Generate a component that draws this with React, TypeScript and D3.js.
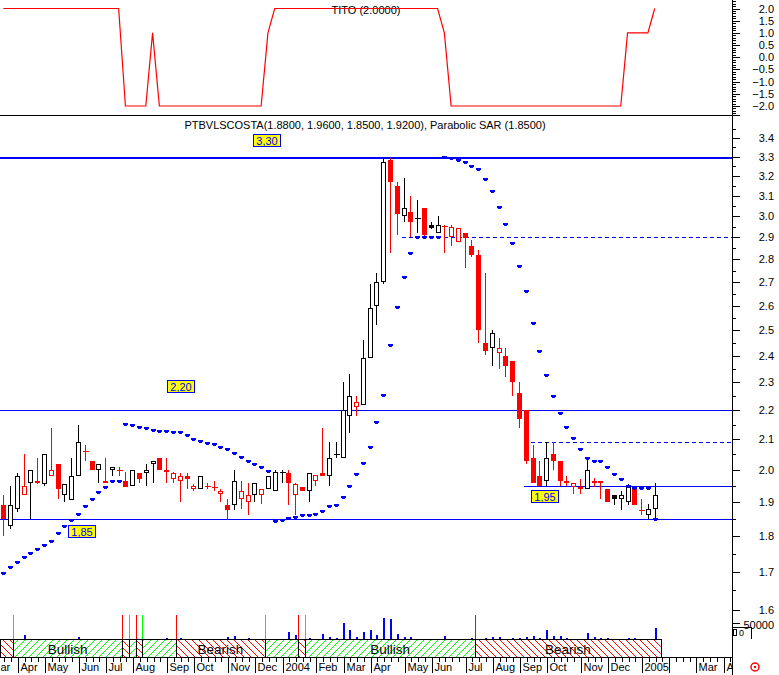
import React from 'react';
import * as d3 from 'd3';

// ---------- DATA ----------
// Weekly candles (Fridays) from 2003-03-21 to 2005-01-21
const FIRST_WEEK = '2003-03-21';
const LAST_WEEK = '2005-01-21';
const PRIOR_CLOSE = 1.9;

const OPEN = [
  1.89, 1.83, 1.88, 1.92, 1.96, 1.96, 1.955, 1.98, 2.02, 1.92,
  1.905, 1.98, 2.06, 2.03, 2.0, 1.965, 2.0, 2.0, 1.965, 1.95,
  1.99, 1.99, 2.02, 2.04, 2.0, 1.97, 1.965, 1.98, 1.94, 1.94,
  1.95, 1.945, 1.925, 1.89, 1.89, 1.91, 1.9, 1.92, 1.92, 1.94,
  1.935, 1.995, 1.99, 1.92, 1.945, 1.935, 1.965, 1.99, 1.98, 2.05,
  2.04, 2.18, 2.21, 2.22, 2.39, 2.6, 2.7, 3.28, 3.15, 3.0,
  3.02, 2.99, 3.04, 2.96, 2.92, 2.955, 2.9, 2.88, 2.92, 2.86,
  2.82, 2.45, 2.43, 2.41, 2.4, 2.38, 2.26, 2.2, 2.04, 1.98,
  1.965, 2.05, 2.03, 1.965, 1.945, 1.94, 1.94, 1.96, 1.965, 1.94,
  1.92, 1.91, 1.9, 1.945, 1.875, 1.86, 1.88,
];
const HIGH = [
  1.92, 1.95, 1.99, 2.05, 2.0, 2.04, 2.05, 2.14, 2.02, 1.955,
  2.04, 2.15, 2.08, 2.03, 2.02, 2.04, 2.01, 2.01, 1.995, 2.0,
  1.99, 2.02, 2.03, 2.04, 2.04, 1.995, 1.99, 1.99, 1.955, 1.98,
  1.96, 1.965, 1.94, 1.91, 2.0, 1.965, 1.96, 1.96, 1.94, 1.98,
  2.0, 2.0, 2.0, 1.96, 1.945, 1.99, 1.985, 2.14, 2.09, 2.09,
  2.3, 2.33, 2.25, 2.46, 2.69, 2.74, 3.3, 3.29, 3.17, 3.19,
  3.1, 3.08, 3.04, 2.97, 3.0, 2.96, 2.96, 2.945, 2.92, 2.89,
  2.84, 2.74, 2.5, 2.47, 2.43, 2.38, 2.3, 2.2, 2.08, 2.03,
  2.09, 2.09, 2.03, 1.98, 1.96, 1.97, 2.04, 1.975, 1.965, 1.94,
  1.92, 1.935, 1.955, 1.945, 1.91, 1.895, 1.96,
];
const LOW = [
  1.8, 1.82, 1.87, 1.92, 1.85, 1.955, 1.95, 1.98, 1.91, 1.9,
  1.905, 1.98, 2.03, 2.0, 1.96, 1.96, 1.98, 1.98, 1.945, 1.95,
  1.96, 1.95, 1.96, 2.0, 1.96, 1.96, 1.9, 1.94, 1.935, 1.94,
  1.94, 1.935, 1.9, 1.845, 1.875, 1.88, 1.86, 1.9, 1.895, 1.94,
  1.935, 1.96, 1.89, 1.86, 1.935, 1.9, 1.95, 1.98, 1.95, 2.04,
  2.04, 2.12, 2.18, 2.22, 2.39, 2.52, 2.69, 2.83, 2.91, 2.97,
  2.9, 2.92, 2.9, 2.94, 2.92, 2.83, 2.86, 2.88, 2.76, 2.81,
  2.45, 2.405, 2.36, 2.35, 2.32, 2.25, 2.14, 2.02, 1.96, 1.95,
  1.95, 2.0, 1.95, 1.95, 1.925, 1.925, 1.94, 1.945, 1.91, 1.9,
  1.89, 1.875, 1.89, 1.89, 1.86, 1.85, 1.85,
];
const CLOSE = [
  1.85, 1.89, 1.98, 1.95, 2.0, 1.965, 2.05, 2.0, 1.94, 1.955,
  1.98, 2.09, 2.06, 2.0, 2.02, 1.96, 2.01, 2.0, 1.945, 2.0,
  1.97, 2.0, 2.03, 2.0, 1.995, 1.99, 1.98, 1.97, 1.95, 1.98,
  1.95, 1.945, 1.935, 1.875, 1.965, 1.935, 1.92, 1.96, 1.94, 1.98,
  1.995, 1.995, 1.96, 1.955, 1.935, 1.99, 1.985, 1.98, 2.04, 2.05,
  2.2, 2.25, 2.23, 2.39, 2.59, 2.7, 3.27, 3.17, 3.01, 3.04,
  2.97, 2.99, 2.91, 2.945, 2.96, 2.955, 2.95, 2.945, 2.895, 2.82,
  2.5, 2.42, 2.49, 2.43, 2.36, 2.3, 2.17, 2.03, 1.96, 1.95,
  2.04, 2.03, 1.965, 1.96, 1.958, 1.945, 2.0, 1.965, 1.96, 1.9,
  1.91, 1.92, 1.945, 1.89, 1.875, 1.88, 1.92,
];
const VOLUME = [
  0, 0, 0, 12500, 0, 0, 0, 0, 0, 0,
  0, 6250, 0, 0, 0, 0, 0, 0, 0, 0,
  0, 0, 0, 0, 3000, 0, 3000, 0, 0, 0,
  0, 0, 0, 6250, 9400, 0, 3000, 0, 0, 0,
  0, 0, 21900, 12500, 0, 3000, 0, 15600, 6250, 3000,
  50000, 28000, 6250, 21900, 28000, 12500, 65600, 62500, 15600, 6250,
  6250, 0, 0, 0, 0, 9400, 0, 0, 0, 3000,
  0, 3000, 6250, 6250, 0, 3000, 3000, 6250, 9400, 3000,
  28000, 9400, 9400, 3000, 0, 0, 18750, 6250, 3000, 3000,
  0, 0, 3000, 3000, 0, 0, 34400,
];
const SAR = [
  1.697, 1.713, 1.726, 1.74, 1.752, 1.763, 1.774, 1.786, 1.807, 1.829,
  1.846, 1.864, 1.887, 1.91, 1.931, 1.945, 1.964, 1.965, 2.152, 2.148,
  2.143, 2.14, 2.133, 2.13, 2.127, 2.125, 2.124, 2.114, 2.102, 2.096,
  2.087, 2.084, 2.074, 2.067, 2.055, 2.041, 2.029, 2.019, 2.01, 1.998,
  1.842, 1.846, 1.852, 1.856, 1.862, 1.862, 1.864, 1.872, 1.889, 1.892,
  1.916, 1.949, 1.986, 2.022, 2.074, 2.158, 2.254, 2.441, 2.596, 2.722,
  2.827, 2.9, 2.9, 2.9, 2.9, 3.3, 3.29, 3.282, 3.273, 3.252,
  3.233, 3.182, 3.121, 3.046, 2.961, 2.873, 2.77, 2.66, 2.529, 2.418,
  2.327, 2.25, 2.19, 2.141, 2.104, 2.067, 2.038, 2.03, 2.03, 2.009,
  1.986, 1.97, 1.95, 1.942, 1.942, 1.942, 1.85,
];
const TITO = [
  2, 2, 2, 2, 2, 2, 2, 2, 2, 2,
  2, 2, 2, 2, 2, 2, 2, 2, -2, -2,
  -2, -2, 1, -2, -2, -2, -2, -2, -2, -2,
  -2, -2, -2, -2, -2, -2, -2, -2, -2, 1,
  2, 2, 2, 2, 2, 2, 2, 2, 2, 2,
  2, 2, 2, 2, 2, 2, 2, 2, 2, 2,
  2, 2, 2, 2, 2, 1, -2, -2, -2, -2,
  -2, -2, -2, -2, -2, -2, -2, -2, -2, -2,
  -2, -2, -2, -2, -2, -2, -2, -2, -2, -2,
  -2, -2, 1, 1, 1, 1, 2,
];
// Trend signals: candle index where the state changes
const SIGNAL_IDX = [2, 18, 19, 20, 21, 26, 39, 44, 45, 70];
const SIGNAL_TYPE = ['buy', 'sell', 'buy', 'sell', 'buy', 'sell', 'buy', 'sell', 'buy', 'sell'];
const INITIAL_STATE = 'sell';

// Support / resistance levels
const LEVEL_VALUES = [3.3, 2.2, 1.85, 2.9, 2.09, 1.95];
const LEVEL_START = [0, 0, 0, 59, 78, 77];
const LEVEL_DASHED = [false, false, false, true, true, false];
const LEVEL_LABELS = ['3,30', '2,20', '1,85', '', '', '1,95'];

// Month ticks (first weekly bar of each month)
const TICK_DATES = [
  '2003-03-07', '2003-04-04', '2003-05-02', '2003-06-06', '2003-07-04', '2003-08-01',
  '2003-09-05', '2003-10-03', '2003-11-07', '2003-12-05', '2004-01-02', '2004-02-06',
  '2004-03-05', '2004-04-02', '2004-05-07', '2004-06-04', '2004-07-09', '2004-08-06',
  '2004-09-03', '2004-10-01', '2004-11-05', '2004-12-03', '2005-01-07', '2005-02-04',
  '2005-03-04', '2005-04-01',
];
// the first month label is only partly visible at the left edge
const TICK_LABELS = [
  'ar', 'Apr', 'May', 'Jun', 'Jul', 'Aug', 'Sep', 'Oct', 'Nov', 'Dec', '2004', 'Feb',
  'Mar', 'Apr', 'May', 'Jun', 'Jul', 'Aug', 'Sep', 'Oct', 'Nov', 'Dec', '2005', '',
  'Mar', 'Apr',
];
const PRICE_TICKS = [1.6, 1.7, 1.8, 1.9, 2.0, 2.1, 2.2, 2.3, 2.4, 2.5, 2.6, 2.7, 2.8, 2.9, 3.0, 3.1, 3.2, 3.3, 3.4];
const TITO_TICKS = [2, 1.5, 1, 0.5, 0, -0.5, -1, -1.5, -2];
const VOLUME_TICKS = [50000];

// ---------- STYLE ----------
const RED = '#ff0000';
const BLUE = '#0000ff';
const GREEN = '#00ff00';
const BLACK = '#000000';
const FONT = '"Liberation Sans", Arial, Helvetica, sans-serif';

const parse = (s: string) => {
  const [a, b, c] = s.split('-').map(Number);
  return new Date(Date.UTC(a, b - 1, c));
};

export default function App() {
  const W = 779;
  const H = 675;
  const RIGHT = 732;
  const TOP_SEP = 115;
  const BAND_TOP = 639;
  const BAND_BOT = 657;

  const dates = d3.utcFriday.range(parse(FIRST_WEEK), d3.utcDay.offset(parse(LAST_WEEK), 1));
  const x = d3.scaleUtc().domain([dates[0], dates[dates.length - 1]]).range([3.3, 654.7]);
  const step = x(dates[1]) - x(dates[0]);
  const y = d3.scaleLog().domain([1.6, 3.3]).range([609.6, 156.5]);
  const yT = d3.scaleLinear().domain([-2, 2]).range([106, 8.5]);
  const yV = d3.scaleLinear().domain([0, 50000]).range([BAND_TOP, 623]);

  const cx = (i: number) => Math.round(x(dates[i])) + 0.5;

  // band segments
  const segs: { x0: number; x1: number; state: string }[] = [];
  let st = INITIAL_STATE;
  let sx = 0;
  SIGNAL_IDX.forEach((idx, k) => {
    const bx = x(dates[idx]) - step / 2;
    segs.push({ x0: sx, x1: bx, state: st });
    st = SIGNAL_TYPE[k];
    sx = bx;
  });
  const bandEnd = x(dates[dates.length - 1]) + step * 0.9;
  segs.push({ x0: sx, x1: bandEnd, state: st });

  const titoLine = d3
    .line<number>()
    .x((_, i) => x(dates[i]))
    .y((d) => yT(d));

  const weekTicks = d3
    .utcFriday.range(parse('2003-02-28'), parse('2005-04-16'))
    .map((d) => x(d))
    .filter((v) => v >= 0 && v <= RIGHT);

  const minorPrice = d3.range(31, 70).map((k) => k * 0.05).filter((v) => y(v) > TOP_SEP + 2 && y(v) < BAND_TOP - 8);
  const minorTito = d3.range(-23, 24).map((k) => k / 10).filter((v) => yT(v) > 1 && yT(v) < TOP_SEP - 1);

  const labelPos: Record<string, { x: number; dy: number }> = {
    '3,30': { x: 253, dy: -23 },
    '2,20': { x: 167, dy: -30 },
    '1,85': { x: 68, dy: 6.5 },
    '1,95': { x: 531, dy: 4.5 },
  };

  return (
    <svg
      width={W}
      height={H}
      style={{ position: 'absolute', left: 0, top: 0, background: '#fff', fontFamily: FONT }}
    >
      <defs>
        <clipPath id="topClip">
          <rect x={0} y={0} width={RIGHT} height={TOP_SEP} />
        </clipPath>
        <clipPath id="mainClip">
          <rect x={0} y={TOP_SEP + 1} width={RIGHT} height={BAND_TOP - TOP_SEP - 1} />
        </clipPath>
        <clipPath id="axisClip">
          <rect x={0} y={BAND_BOT} width={RIGHT} height={H - BAND_BOT} />
        </clipPath>
        <pattern id="bull" width={7} height={7} patternUnits="userSpaceOnUse">
          <path d="M0,7 L7,0 M-1,1 L1,-1 M6,8 L8,6" stroke={GREEN} strokeWidth={1} />
        </pattern>
        <pattern id="bear" width={7} height={7} patternUnits="userSpaceOnUse">
          <path d="M0,0 L7,7 M-1,6 L1,8 M6,-1 L8,1" stroke={RED} strokeWidth={1} />
        </pattern>
      </defs>

      {/* ---------- TOP PANEL (TITO) ---------- */}
      <text x={366} y={14} fontSize={11} textAnchor="middle" fill={BLACK}>
        TITO (2.0000)
      </text>
      <g clipPath="url(#topClip)">
        <path d={titoLine(TITO) || ''} fill="none" stroke={RED} strokeWidth={1.2} />
      </g>
      <line x1={0} x2={RIGHT} y1={TOP_SEP + 0.5} y2={TOP_SEP + 0.5} stroke={BLACK} />

      {/* ---------- MAIN PANEL ---------- */}
      <text x={365} y={129} fontSize={11} textAnchor="middle" fill={BLACK}>
        PTBVLSCOSTA(1.8800, 1.9600, 1.8500, 1.9200), Parabolic SAR (1.8500)
      </text>

      <g clipPath="url(#mainClip)">
        {/* levels */}
        {LEVEL_VALUES.map((v, k) => {
          const x0 = LEVEL_START[k] === 0 ? 0 : x(dates[LEVEL_START[k]]) - 2;
          const yy = Math.round(y(v)) + 0.5;
          return (
            <line
              key={'lv' + k}
              x1={x0}
              x2={RIGHT}
              y1={yy}
              y2={yy}
              stroke={BLUE}
              strokeWidth={k === 0 ? 2 : 1}
              strokeDasharray={LEVEL_DASHED[k] ? '4,3' : undefined}
              shapeRendering="crispEdges"
            />
          );
        })}

        {/* candles */}
        {OPEN.map((o, i) => {
          const c = CLOSE[i];
          const prev = i === 0 ? PRIOR_CLOSE : CLOSE[i - 1];
          const col = c < prev ? RED : BLACK;
          const xc = cx(i);
          const yH = y(HIGH[i]);
          const yL = y(LOW[i]);
          const yTop = Math.round(y(Math.max(o, c)));
          const yBot = Math.round(y(Math.min(o, c)));
          const filled = c < o;
          const bh = yBot - yTop;
          let body;
          if (bh < 1.5) {
            body = <line x1={xc - 3} x2={xc + 3} y1={yTop + 0.5} y2={yTop + 0.5} stroke={col} strokeWidth={1.5} />;
          } else if (filled) {
            body = <rect x={xc - 2.5} y={yTop} width={5} height={bh} fill={col} />;
          } else {
            body = (
              <rect x={xc - 2} y={yTop + 0.5} width={4} height={bh - 1} fill="#fff" stroke={col} strokeWidth={1} />
            );
          }
          return (
            <g key={'c' + i} shapeRendering="crispEdges">
              <line x1={xc} x2={xc} y1={yH} y2={yL} stroke={col} strokeWidth={1} />
              {body}
            </g>
          );
        })}

        {/* parabolic SAR */}
        {SAR.map((v, i) => {
          const xc = cx(i) - 0.5;
          const yy = Math.round(y(v));
          return (
            <g key={'s' + i} fill={BLUE} shapeRendering="crispEdges">
              <rect x={xc - 2} y={yy - 1} width={5} height={2} />
              <rect x={xc - 1} y={yy + 1} width={3} height={1} />
            </g>
          );
        })}

        {/* level labels */}
        {LEVEL_VALUES.map((v, k) => {
          const lab = LEVEL_LABELS[k];
          if (!lab) return null;
          const p = labelPos[lab];
          const top = Math.round(y(v) + p.dy);
          return (
            <g key={'ll' + k}>
              <rect x={p.x + 0.5} y={top + 0.5} width={27} height={12} fill="#ffff00" stroke={BLUE} strokeWidth={1} />
              <text x={p.x + 14} y={top + 10.5} fontSize={11} textAnchor="middle" fill={BLUE}>
                {lab}
              </text>
            </g>
          );
        })}
      </g>

      {/* ---------- VOLUME ---------- */}
      <g shapeRendering="crispEdges">
        {VOLUME.map((v, i) =>
          v > 0 ? (
            <rect key={'v' + i} x={cx(i) - 0.5} y={yV(v)} width={1.5} height={BAND_TOP - yV(v)} fill={BLUE} />
          ) : null
        )}
        {SIGNAL_IDX.map((idx, k) => {
          const bx = Math.round(x(dates[idx]) - step / 2);
          return (
            <rect
              key={'sg' + k}
              x={bx - 0.5}
              y={BAND_TOP - 24}
              width={1.5}
              height={24}
              fill={SIGNAL_TYPE[k] === 'buy' ? GREEN : RED}
            />
          );
        })}
      </g>

      {/* ---------- BAND ---------- */}
      <g>
        {segs.map((s, k) => (
          <rect
            key={'bd' + k}
            x={s.x0}
            y={BAND_TOP}
            width={s.x1 - s.x0}
            height={BAND_BOT - BAND_TOP}
            fill={s.state === 'buy' ? 'url(#bull)' : 'url(#bear)'}
          />
        ))}
        {segs.map((s, k) => (
          <line
            key={'bl' + k}
            x1={Math.round(s.x1) + 0.5}
            x2={Math.round(s.x1) + 0.5}
            y1={BAND_TOP}
            y2={BAND_BOT}
            stroke={BLACK}
            shapeRendering="crispEdges"
          />
        ))}
        <line x1={0.5} x2={0.5} y1={BAND_TOP} y2={BAND_BOT} stroke={BLACK} shapeRendering="crispEdges" />
        <line x1={0} x2={bandEnd} y1={BAND_TOP + 0.5} y2={BAND_TOP + 0.5} stroke={BLACK} shapeRendering="crispEdges" />
        {segs
          .filter((s) => s.x1 - s.x0 > 60)
          .map((s, k) => (
            <text
              key={'bt' + k}
              x={(s.x0 + s.x1) / 2}
              y={BAND_BOT - 3}
              fontSize={13.5}
              textAnchor="middle"
              fill={BLACK}
            >
              {s.state === 'buy' ? 'Bullish' : 'Bearish'}
            </text>
          ))}
      </g>

      {/* ---------- X AXIS ---------- */}
      <line x1={0} x2={RIGHT} y1={BAND_BOT + 0.5} y2={BAND_BOT + 0.5} stroke={BLACK} shapeRendering="crispEdges" />
      <g clipPath="url(#axisClip)" shapeRendering="crispEdges">
        {weekTicks.map((tx, k) => (
          <line key={'wt' + k} x1={Math.round(tx) + 1.5} x2={Math.round(tx) + 1.5} y1={BAND_BOT} y2={BAND_BOT + 5} stroke={BLACK} />
        ))}
        {TICK_DATES.map((d, k) => {
          const tx = Math.round(x(parse(d))) + 1.5;
          const lx = Math.max(0.5, tx + 2);
          return (
            <g key={'mt' + k}>
              {tx >= 0 && <line x1={tx} x2={tx} y1={BAND_BOT} y2={BAND_BOT + 16} stroke={BLACK} />}
              <text x={lx} y={BAND_BOT + 14} fontSize={11} fill={BLACK} shapeRendering="auto">
                {TICK_LABELS[k]}
              </text>
            </g>
          );
        })}
      </g>

      {/* ---------- RIGHT AXIS ---------- */}
      <line x1={RIGHT + 0.5} x2={RIGHT + 0.5} y1={0} y2={H} stroke={BLACK} shapeRendering="crispEdges" />
      <g shapeRendering="crispEdges">
        {minorTito.map((v, k) => (
          <line key={'mtt' + k} x1={RIGHT} x2={RIGHT + 4} y1={Math.round(yT(v)) + 0.5} y2={Math.round(yT(v)) + 0.5} stroke={BLACK} />
        ))}
        {TITO_TICKS.map((v, k) => (
          <g key={'tt' + k}>
            <line x1={RIGHT} x2={RIGHT + 8} y1={Math.round(yT(v)) + 0.5} y2={Math.round(yT(v)) + 0.5} stroke={BLACK} />
            <text x={774} y={yT(v) + 4} fontSize={11} textAnchor="end" fill={BLACK} shapeRendering="auto">
              {d3.format('.1f')(v)}
            </text>
          </g>
        ))}
        {minorPrice.map((v, k) => (
          <line key={'mp' + k} x1={RIGHT} x2={RIGHT + 4} y1={Math.round(y(v)) + 0.5} y2={Math.round(y(v)) + 0.5} stroke={BLACK} />
        ))}
        {PRICE_TICKS.map((v, k) => (
          <g key={'pt' + k}>
            <line x1={RIGHT} x2={RIGHT + 8} y1={Math.round(y(v)) + 0.5} y2={Math.round(y(v)) + 0.5} stroke={BLACK} />
            <text x={774} y={y(v) + 4} fontSize={11} textAnchor="end" fill={BLACK} shapeRendering="auto">
              {d3.format('.1f')(v)}
            </text>
          </g>
        ))}
        {VOLUME_TICKS.map((v, k) => (
          <g key={'vt' + k}>
            <line x1={RIGHT} x2={RIGHT + 8} y1={Math.round(yV(v)) + 0.5} y2={Math.round(yV(v)) + 0.5} stroke={BLACK} />
            <text x={774} y={yV(v) + 6} fontSize={11} textAnchor="end" fill={BLACK} shapeRendering="auto">
              {v}
            </text>
          </g>
        ))}
        <line x1={RIGHT} x2={RIGHT + 8} y1={TOP_SEP + 0.5} y2={TOP_SEP + 0.5} stroke={BLACK} />
        {/* volume scale bracket */}
        <line x1={RIGHT} x2={RIGHT + 20} y1={627.5} y2={627.5} stroke={BLACK} />
        <line x1={RIGHT + 19.5} x2={RIGHT + 19.5} y1={627} y2={BAND_TOP} stroke={BLACK} />
        <rect x={RIGHT + 1.5} y={629.5} width={3} height={6} fill="none" stroke={BLACK} />
        <text x={RIGHT + 7} y={636} fontSize={9} fill={BLACK} shapeRendering="auto">
          0
        </text>
      </g>

      {/* small marker icon */}
      <circle cx={755} cy={667} r={4} fill="none" stroke={RED} strokeWidth={1.5} />
      <circle cx={755} cy={667} r={1.2} fill={RED} />
    </svg>
  );
}
